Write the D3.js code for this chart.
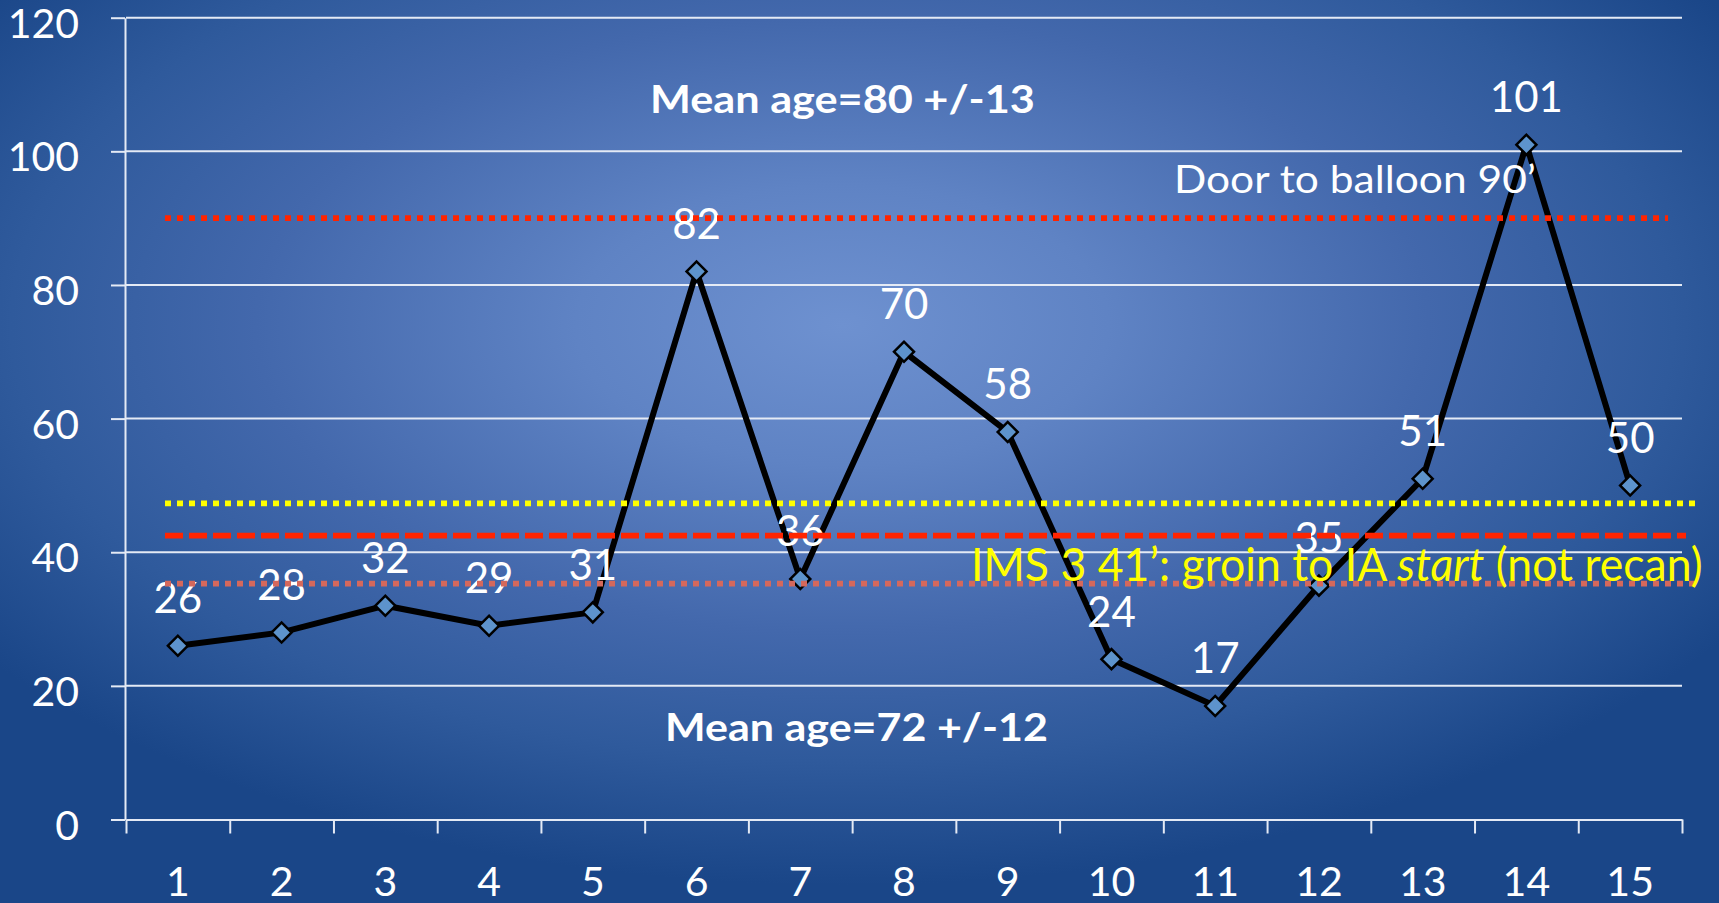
<!DOCTYPE html>
<html>
<head>
<meta charset="utf-8">
<script src="https://cdn.jsdelivr.net/npm/d3@7"></script>
<style>
  html, body { margin: 0; padding: 0; background: #1a4688; }
  svg { display: block; }
  text { font-family: Lato, "Open Sans", sans-serif; }
</style>
</head>
<body>
<svg id="chart" width="1719" height="903"></svg>
<script>
// Case number and time in minutes
const categories = ["1","2","3","4","5","6","7","8","9","10","11","12","13","14","15"];
const minutes = [26, 28, 32, 29, 31, 82, 36, 70, 58, 24, 17, 35, 51, 101, 50];
const yTicks = [0, 20, 40, 60, 80, 100, 120];

// Reference levels (minutes)
const doorToBalloon = 90;
const yellowLevel = 47.3;
const redDashedLevel = 42.5;
const salmonLevel = 35.3;

const annotations = {
  upperAge: "Mean age=80 +/-13",
  lowerAge: "Mean age=72 +/-12",
  door: "Door to balloon 90\u2019"
};

const W = 1719, H = 903;
const plot = { left: 126, right: 1682, top: 17.7, bottom: 819.5 };

const svg = d3.select("#chart");

// Background: soft radial glow
const defs = svg.append("defs");
const grad = defs.append("radialGradient")
  .attr("id", "bg").attr("cx", 0.49).attr("cy", 0.36).attr("r", 0.62);
[[0, "#6e91d0"], [0.25, "#5f83c4"], [0.55, "#4368ac"], [0.78, "#2f5a9c"], [1, "#1a4688"]]
  .forEach(([o, c]) => grad.append("stop").attr("offset", o).attr("stop-color", c));
svg.append("rect").attr("width", W).attr("height", H).attr("fill", "url(#bg)");

const x = d3.scaleBand().domain(categories).range([plot.left, plot.right]).padding(0);
const xEdge = d3.scaleLinear().domain([0, categories.length]).range([plot.left, plot.right]);
const y = d3.scaleLinear().domain([0, 120]).range([plot.bottom, plot.top]);

const gridColor = "#e4eaf5";

// Horizontal gridlines
svg.append("g")
  .selectAll("line")
  .data(yTicks.filter(t => t > 0))
  .join("line")
  .attr("x1", plot.left).attr("x2", plot.right)
  .attr("y1", d => y(d)).attr("y2", d => y(d))
  .attr("stroke", gridColor).attr("stroke-width", 2);

// Y axis
const yAxis = svg.append("g")
  .attr("transform", `translate(${plot.left - 1},0)`)
  .call(d3.axisLeft(y).tickValues(yTicks).tickSize(14).tickSizeOuter(0).tickPadding(32));
yAxis.select(".domain").attr("stroke", gridColor).attr("stroke-width", 2);
yAxis.selectAll(".tick line").attr("stroke", gridColor).attr("stroke-width", 2);
yAxis.selectAll(".tick text")
  .attr("fill", "#ffffff").attr("font-size", 41).attr("dy", 19.5);

// X axis: boundary ticks
const xTicks = svg.append("g")
  .attr("transform", `translate(0,${plot.bottom})`)
  .call(d3.axisBottom(xEdge).tickValues(d3.range(0, categories.length + 1))
    .tickSize(14).tickSizeOuter(0).tickFormat(""));
xTicks.select(".domain").attr("stroke", gridColor).attr("stroke-width", 2);
xTicks.selectAll(".tick line").attr("stroke", gridColor).attr("stroke-width", 2);

// X axis: category labels
const xLabels = svg.append("g")
  .attr("transform", `translate(0,${plot.bottom})`)
  .call(d3.axisBottom(x).tickSize(0));
xLabels.select(".domain").remove();
xLabels.selectAll(".tick text")
  .attr("fill", "#ffffff").attr("font-size", 41)
  .attr("y", 76).attr("dy", 0);

const cx = d => x(d) + x.bandwidth() / 2;
const pts = categories.map((c, i) => ({ c, v: minutes[i] }));

// Series line
svg.append("path")
  .datum(pts)
  .attr("fill", "none").attr("stroke", "#000000").attr("stroke-width", 6)
  .attr("stroke-linejoin", "miter")
  .attr("d", d3.line().x(d => cx(d.c)).y(d => y(d.v)));

// Diamond markers
svg.append("g")
  .selectAll("path")
  .data(pts)
  .join("path")
  .attr("transform", d => `translate(${cx(d.c)},${y(d.v)}) rotate(45)`)
  .attr("d", d3.symbol(d3.symbolSquare, 200)())
  .attr("fill", "#5d93cc").attr("stroke", "#000000").attr("stroke-width", 2.5);

// Value labels
svg.append("g")
  .selectAll("text")
  .data(pts)
  .join("text")
  .attr("x", d => cx(d.c)).attr("y", d => y(d.v) - 32.5)
  .attr("text-anchor", "middle").attr("fill", "#ffffff").attr("font-size", 42)
  .text(d => d.v);

// Reference lines
const refLines = [
  { v: doorToBalloon, x2: 1668, color: "#ff2400", dash: "6,6" },
  { v: yellowLevel, x2: 1695, color: "#ffff00", dash: "6,6" },
  { v: redDashedLevel, x2: 1686, color: "#ff2400", dash: "18,6" },
  { v: salmonLevel, x2: 1697, color: "#d5685c", dash: "6,6" }
];
svg.append("g")
  .selectAll("line")
  .data(refLines)
  .join("line")
  .attr("x1", 165).attr("x2", d => d.x2)
  .attr("y1", d => y(d.v)).attr("y2", d => y(d.v))
  .attr("stroke", d => d.color).attr("stroke-width", 5.8)
  .attr("stroke-dasharray", d => d.dash);

// Squeeze text horizontally to a target width from its start point
function fitWidth(sel, x0, target) {
  const w = sel.node().getComputedTextLength();
  sel.attr("transform", `translate(${x0},0) scale(${target / w},1) translate(${-x0},0)`);
}

const upper = svg.append("text")
  .attr("x", 650).attr("y", 113).attr("fill", "#ffffff")
  .attr("font-size", 39).attr("font-weight", 700)
  .text(annotations.upperAge);
fitWidth(upper, 650, 385);

const lower = svg.append("text")
  .attr("x", 665).attr("y", 741).attr("fill", "#ffffff")
  .attr("font-size", 39).attr("font-weight", 700)
  .text(annotations.lowerAge);
fitWidth(lower, 665, 383);

const door = svg.append("text")
  .attr("x", 1174).attr("y", 193).attr("fill", "#ffffff")
  .attr("font-size", 39)
  .text(annotations.door);
fitWidth(door, 1174, 362);

const ims = svg.append("text")
  .attr("x", 971).attr("y", 581).attr("fill", "#ffff00")
  .attr("font-size", 46);
ims.append("tspan").text("IMS 3 41\u2019: groin to IA ");
ims.append("tspan").attr("font-style", "italic").text("start");
ims.append("tspan").text(" (not recan)");
fitWidth(ims, 971, 732);
</script>
</body>
</html>
